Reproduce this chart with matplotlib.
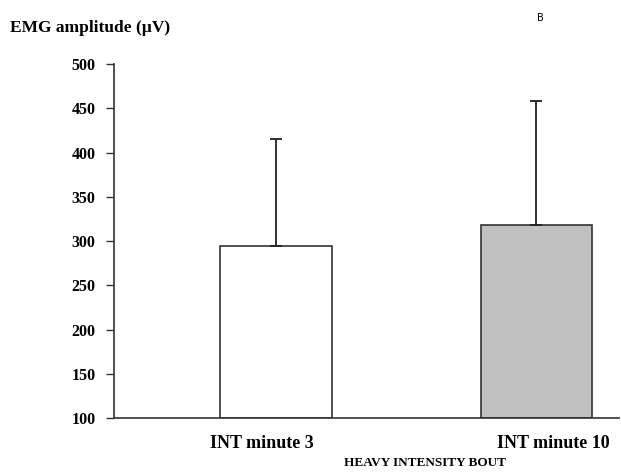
import matplotlib
matplotlib.use("Agg")
import matplotlib.pyplot as plt
import matplotlib.transforms as mtransforms

categories = ["INT minute 3", "INT minute 10"]
means = [295, 318]
sds = [120, 140]
yticks = [100, 150, 200, 250, 300, 350, 400, 450, 500]

plt.rcParams['font.family'] = ['Liberation Serif', 'DejaVu Serif']

fig = plt.figure(figsize=(6.21, 4.73), dpi=100)
ax = fig.add_axes([0.184, 0.1156, 0.8128, 0.7491])

x = list(range(len(categories)))
colors = ["white", "#c0c0c0"]
ax.bar(x, [m - 100 for m in means], bottom=100, width=0.428, color=colors,
       edgecolor="#333333", linewidth=1.2, zorder=2)
ax.errorbar(x, means, yerr=[[0, 0], sds], fmt="none", ecolor="#222222",
            elinewidth=1.3, capsize=4.5, capthick=1.3, zorder=3)

ax.set_ylim(100, 500)
ax.set_xlim(-0.621, 1.317)
ax.set_yticks(yticks)
ax.set_yticklabels([str(v) for v in yticks], fontsize=11.5, fontweight="bold")
ax.set_xticks(x)
ax.set_xticklabels(categories, fontsize=13, fontweight="bold")
ax.tick_params(axis="x", length=0, pad=12)
ax.tick_params(axis="y", direction="out", length=6, width=1, pad=7.5, color="#333333")
ax.spines["top"].set_visible(False)
ax.spines["right"].set_visible(False)
for s in ["left", "bottom"]:
    ax.spines[s].set_color("#333333")
    ax.spines[s].set_linewidth(1.2)

shifts = [-14, 17]
for lbl, dx in zip(ax.get_xticklabels(), shifts):
    lbl.set_transform(lbl.get_transform() +
                      mtransforms.ScaledTranslation(dx / 100, 0, fig.dpi_scale_trans))

fig.text(10 / 621, 1 - 28 / 473, "EMG amplitude (\u00b5V)", fontsize=12.5,
         fontweight="bold", ha="left", va="center")
fig.text(425 / 621, 1 - 463 / 473, "HEAVY INTENSITY BOUT", fontsize=9.5,
         fontweight="bold", ha="center", va="center")
fig.text(540 / 621, 1 - 18 / 473, "B", fontsize=7, family="DejaVu Sans",
         ha="center", va="center")

fig.savefig("out.png", dpi=100)
